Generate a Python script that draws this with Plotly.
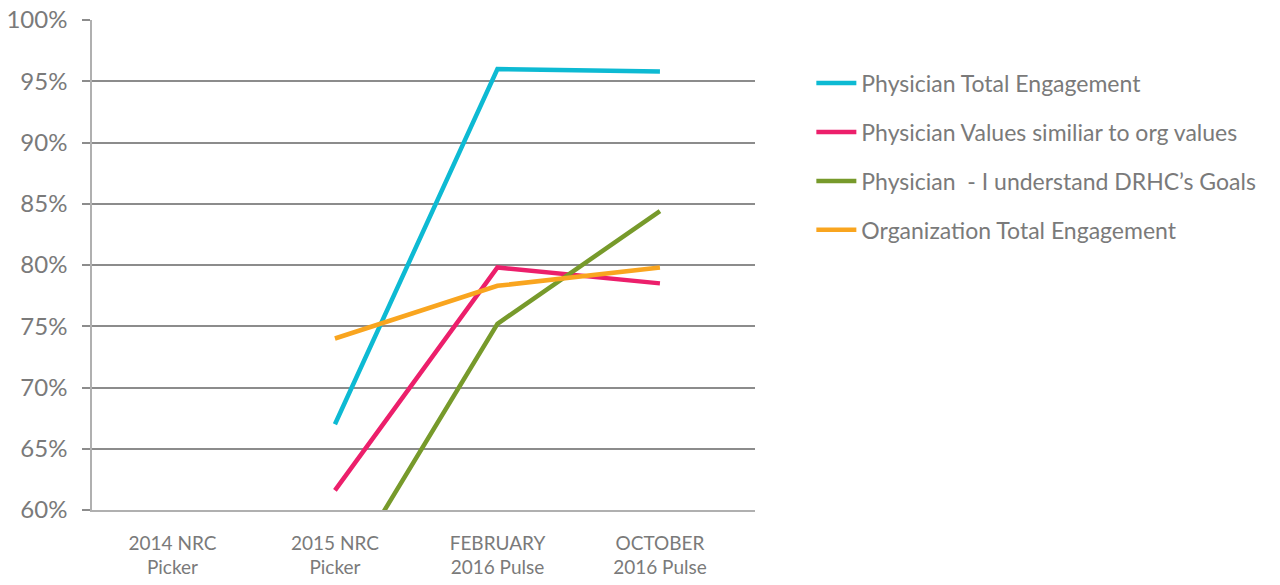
import plotly.graph_objects as go

categories = ["2014 NRC<br>Picker", "2015 NRC<br>Picker", "FEBRUARY<br>2016 Pulse", "OCTOBER<br>2016 Pulse"]
cat_pos = [0, 1, 2, 3]

series_names = [
    "Physician Total Engagement",
    "Physician Values similiar to org values",
    "Physician  - I understand DRHC’s Goals",
    "Organization Total Engagement",
]
phys_total = [None, 67.0, 96.0, 95.8]
phys_values = [None, 61.6, 79.8, 78.5]
phys_goals = [None, 53.3, 75.2, 84.4]
org_total = [None, 74.0, 78.3, 79.8]
series_values = [phys_total, phys_values, phys_goals, org_total]
colors = ["#0DBAD3", "#EC1F6B", "#779A2B", "#F9A51F"]

y_ticks = [60, 65, 70, 75, 80, 85, 90, 95, 100]
y_ticktext = [f"{v}%" for v in y_ticks]

FONT = "Lato, 'Open Sans', sans-serif"
GREY = "#7a7a7a"

fig = go.Figure()
for i, (name, vals, col) in enumerate(zip(series_names, series_values, colors)):
    fig.add_trace(go.Scatter(
        x=cat_pos, y=vals, name=name, mode="lines",
        line=dict(color=col, width=4.5),
        legendgroup=f"g{i}", connectgaps=False,
    ))

fig.update_layout(
    width=1280, height=585,
    margin=dict(l=92, r=525, t=20, b=75, autoexpand=False),
    paper_bgcolor="white", plot_bgcolor="white",
    font=dict(family=FONT, color=GREY),
    showlegend=True,
    legend=dict(
        x=1.085, y=0.915, xanchor="left", yanchor="top",
        font=dict(size=23, color=GREY, family=FONT),
        tracegroupgap=16, itemwidth=40,
        bgcolor="rgba(0,0,0,0)",
    ),
)
fig.update_xaxes(
    range=[-0.495, 3.585], tickvals=cat_pos, ticktext=categories,
    showgrid=False, zeroline=False,
    showline=True, linecolor="#b0b0b0", linewidth=1.5,
    ticks="", ticklabelstandoff=15,
    tickfont=dict(size=19, color=GREY, family=FONT),
)
fig.update_yaxes(
    range=[60, 100], tickvals=y_ticks, ticktext=y_ticktext,
    showgrid=True, gridcolor="#8c8c8c", gridwidth=2,
    zeroline=False, showline=True, linecolor="#b0b0b0", linewidth=1.5,
    ticks="outside", ticklen=8, tickcolor="#8c8c8c", tickwidth=2,
    ticklabelstandoff=10,
    tickfont=dict(size=24, color=GREY, family=FONT),
)

fig.write_html("out.html")
